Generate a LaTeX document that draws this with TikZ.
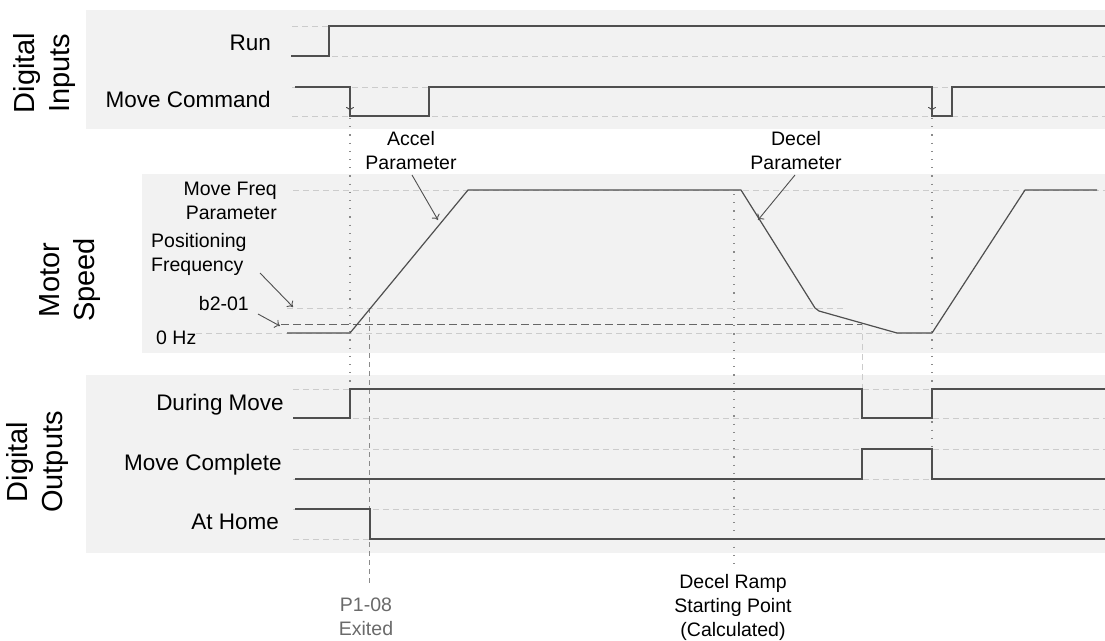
\documentclass[tikz,border=0pt]{standalone}
\usepackage{fontspec}
\setmainfont{Liberation Sans}
\usetikzlibrary{arrows.meta}
\definecolor{bandcol}{HTML}{F2F2F2}
\definecolor{sigcol}{HTML}{4F4F4F}
\definecolor{guidecol}{HTML}{CCCCCC}
\definecolor{dotcol}{HTML}{8A8A8A}
\definecolor{darkdash}{HTML}{666666}
\definecolor{graytext}{HTML}{6A6A6A}
\tikzset{
  lbl/.style={font=\fontsize{22.5}{27}\selectfont, inner sep=0pt},
  smalllbl/.style={font=\fontsize{19.5}{24}\selectfont, align=center, inner sep=0pt},
  grplbl/.style={font=\fontsize{29}{35}\selectfont, rotate=90, align=center, inner sep=0pt},
  guideline/.style={draw=guidecol, line width=1pt, dash pattern=on 6pt off 4pt},
  signal/.style={draw=sigcol, line width=1.4pt},
  speed/.style={draw=sigcol, line width=1.2pt, line join=round},
  vdotted/.style={draw=dotcol, line width=1.2pt, dash pattern=on 1.2pt off 7pt},
  vdashed/.style={draw=dotcol, line width=0.8pt, dash pattern=on 5pt off 4pt},
  lightvdash/.style={draw=guidecol, line width=1pt, dash pattern=on 6pt off 4pt},
  leader/.style={draw=sigcol, line width=0.9pt, -{To[length=5pt,width=9pt]}},
  edgearrow/.style={draw=sigcol, line width=0.9pt, -{To[length=4pt,width=8pt]}},
}
\begin{document}
\begin{tikzpicture}[x=1pt,y=-1pt]
\useasboundingbox (0,0) rectangle (1105,640);
% bands
\fill[bandcol] (86,10) rectangle (1105,129);
\fill[bandcol] (142,174) rectangle (1105,353);
\fill[bandcol] (86,375) rectangle (1105,553);

% group labels
\node[grplbl] (gin) at (45,73) {Digital\\Inputs};
\node[grplbl] (gspeed) at (70,280) {Motor\\Speed};
\node[grplbl] (gout) at (38,462) {Digital\\Outputs};

% guides: inputs
\foreach \y in {26,56,87,116} \draw[guideline] (292,\y) -- (1105,\y);
% guides: speed
\draw[guideline] (293,190) -- (1105,190);
\draw[guideline] (287,308) -- (845,308);
\draw[guideline] (196,333) -- (1105,333);
% guides: outputs
\foreach \y in {389,418,449,479,509,539} \draw[guideline] (293,\y) -- (1105,\y);

% vertical markers
\draw[vdotted] (350,118) -- (350,388);
\draw[vdotted] (932,118) -- (932,479);
\draw[vdotted] (734,194) -- (734,566);
\draw[vdashed] (369,308) -- (369,584);
\draw[lightvdash] (862,324) -- (862,389);
\draw[darkdash, line width=1pt, dash pattern=on 8pt off 4pt] (281,324) -- (862,324);

% signal labels
\node[lbl, anchor=base east] (run) at (271,50) {Run};
\node[lbl, anchor=base east] (movecmd) at (271,107) {Move Command};
\node[lbl, anchor=base east] (during) at (284,410) {During Move};
\node[lbl, anchor=base east] (complete) at (282,470) {Move Complete};
\node[lbl, anchor=base east] (athome) at (279,529) {At Home};

% input waveforms
\draw[signal] (291,56) -- (329,56) -- (329,26) -- (1105,26);
\draw[signal] (295,87) -- (350,87) -- (350,116) -- (429,116) -- (429,87) -- (932,87) -- (932,116) -- (952,116) -- (952,87) -- (1105,87);
\coordinate (mcA0) at (350,96); \coordinate (mcA1) at (350,111);
\coordinate (mcB0) at (932,96); \coordinate (mcB1) at (932,111);
\draw[edgearrow] (mcA0) -- (mcA1);
\draw[edgearrow] (mcB0) -- (mcB1);

% speed labels
\node[smalllbl, align=right, anchor=east] (movefreq) at (277,201) {Move Freq\\Parameter};
\node[smalllbl, align=left, anchor=west] (posfreq) at (151,254) {Positioning\\Frequency};
\node[smalllbl, anchor=base east] (b201) at (249,310) {b2-01};
\node[smalllbl, anchor=base west] (zerohz) at (156,344) {0 Hz};
\node[smalllbl] (accel) at (411,151) {Accel\\Parameter};
\node[smalllbl] (decel) at (796,151) {Decel\\Parameter};

% speed curve
\draw[speed] (287,333) -- (350,333) -- (468,190) -- (741,190) -- (815,308) -- (819,311) -- (897,333) -- (932,333) -- (1025,190) -- (1097,190);

% leaders
\coordinate (accS) at (412,175); \coordinate (accT) at (438,220);
\coordinate (decS) at (795,175); \coordinate (decT) at (758,220);
\coordinate (posS) at (260,273); \coordinate (posT) at (293,307);
\coordinate (b2S) at (258,314); \coordinate (b2T) at (280,326);
\draw[leader] (accS) -- (accT);
\draw[leader] (decS) -- (decT);
\draw[leader] (posS) -- (posT);
\draw[leader] (b2S) -- (b2T);

% output waveforms
\draw[signal] (293,418) -- (350,418) -- (350,389) -- (862,389) -- (862,418) -- (932,418) -- (932,389) -- (1105,389);
\draw[signal] (295,479) -- (862,479) -- (862,449) -- (932,449) -- (932,479) -- (1105,479);
\draw[signal] (295,509) -- (370,509) -- (370,539) -- (1105,539);

% bottom labels
\node[smalllbl, text=graytext] (p108) at (366,617) {P1-08\\Exited};
\node[smalllbl] (declramp) at (733,607) {Decel Ramp\\Starting Point\\(Calculated)};
\end{tikzpicture}
\end{document}
